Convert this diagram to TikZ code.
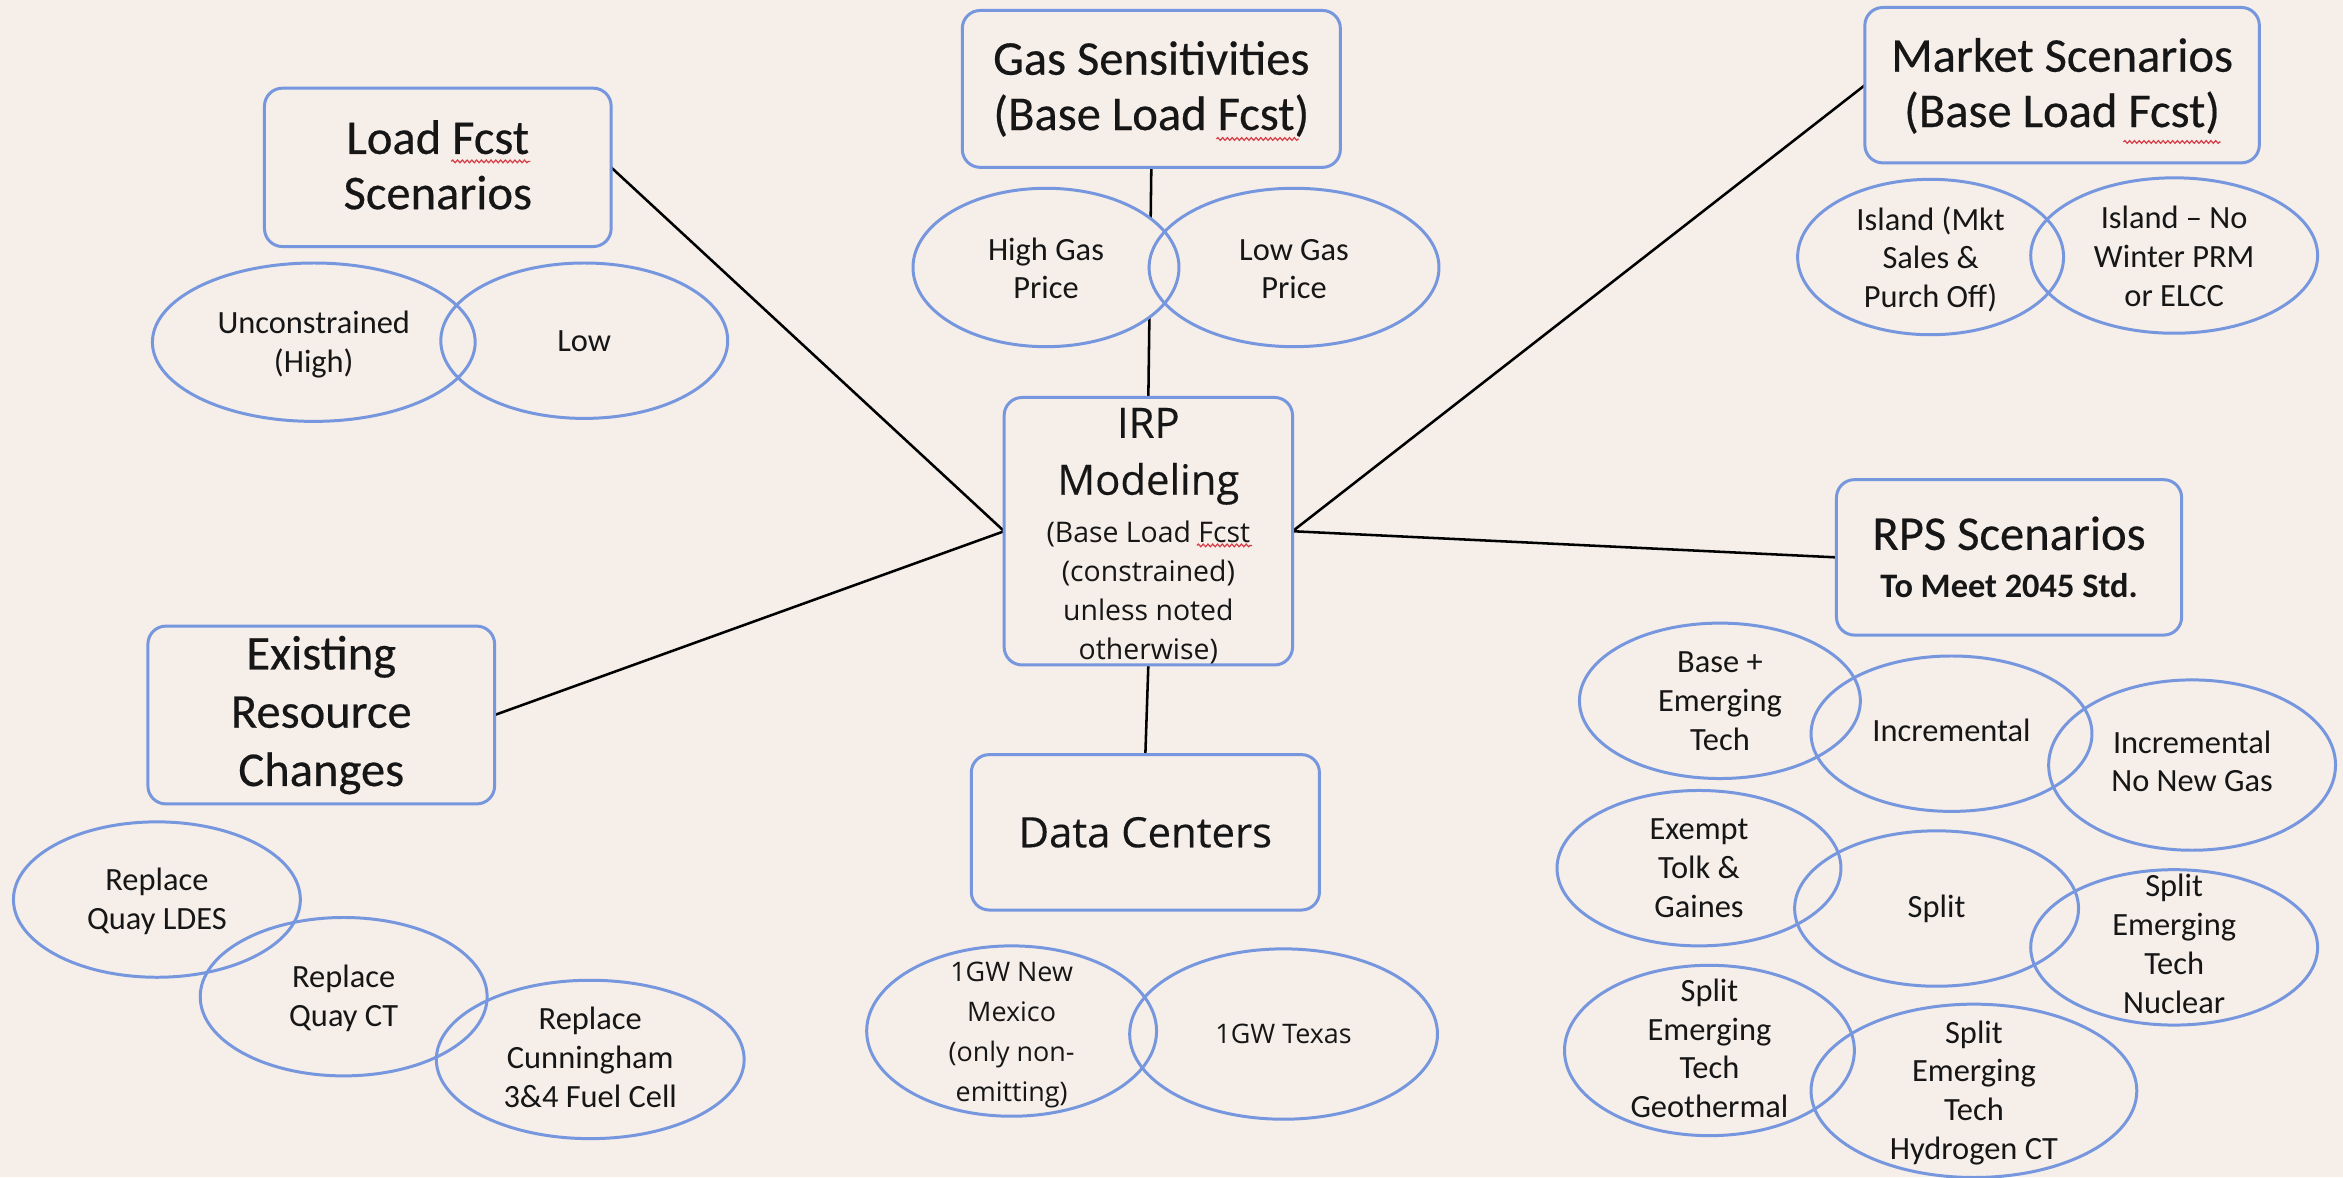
\documentclass[tikz,border=0pt]{standalone}
\usepackage{fontspec}
\setmainfont{Carlito}
\newfontfamily\osans{Open Sans}
\newfontfamily\titlef[FakeBold=0.4]{Carlito}
\newfontfamily\ostitle[FakeBold=0.3]{Open Sans}
\usetikzlibrary{shapes.geometric,decorations.pathmorphing}
\definecolor{bgc}{RGB}{245,238,233}
\definecolor{edgeblue}{RGB}{118,150,222}
\definecolor{ink}{RGB}{22,22,22}
\definecolor{spellred}{RGB}{215,60,70}
\pgfdeclarelayer{background}
\pgfsetlayers{background,main}
\newcommand\txtl[2]{\smash{\raisebox{#1pt}{\begin{tabular}[t]{@{}c@{}}#2\end{tabular}}}}
\newcommand\ellip[8]{%
  \begin{pgfonlayer}{background}
    \fill[bgc] (#2,#3) ellipse [x radius=#4pt, y radius=#5pt];
  \end{pgfonlayer}
  \node[ell, #6, minimum width=2*#4pt, minimum height=2*#5pt] (#1) at (#2,#3) {\txtl{#7}{#8}};}
\tikzset{
  box/.style={draw=edgeblue, line width=2pt, rounded corners=12pt, inner sep=0pt, outer sep=0pt, text=ink},
  ell/.style={ellipse, draw=edgeblue, line width=2pt, inner sep=0pt, outer sep=0pt, text=ink},
  conn/.style={draw=black, line width=1.7pt},
  squiggle/.style={draw=spellred, line width=0.8pt, decorate, decoration={snake, amplitude=0.9pt, segment length=3.2pt}},
  titlefont/.style={font=\titlef\fontsize{32.5}{37}\selectfont},
  ellfont/.style={font=\fontsize{21.7}{26}\selectfont},
  osfont/.style={font=\osans\fontsize{18}{26.7}\selectfont},
}
\begin{document}
\begin{tikzpicture}[x=1pt, y=-1pt]
\useasboundingbox (0,0) rectangle (1568,788);
\begin{pgfonlayer}{background}
  \fill[bgc] (0,0) rectangle (1568,788);
\end{pgfonlayer}

% boxes
\node[box, titlefont, minimum width=232pt, minimum height=106pt] (load) at (293,112) {\txtl{9}{Load Fcst\\Scenarios}};
\node[box, titlefont, minimum width=253pt, minimum height=105pt] (gas) at (770.5,59.5) {\txtl{9.5}{Gas Sensitivities\\(Base Load Fcst)}};
\node[box, titlefont, minimum width=264pt, minimum height=104pt] (market) at (1380,57) {\txtl{9}{Market Scenarios\\(Base Load Fcst)}};
\node[box, font=\titlef\fontsize{32.5}{39}\selectfont, minimum width=232pt, minimum height=119pt] (exist) at (215,478.5) {\txtl{30.5}{Existing\\Resource\\Changes}};
\node[box, font=\fontsize{23}{32}\selectfont\bfseries, minimum width=231pt, minimum height=104pt] (rps) at (1344.5,373) {\txtl{5}{{\titlef\mdseries\fontsize{32.5}{32}\selectfont RPS Scenarios}\\To Meet 2045 Std.}};
\node[box, font=\osans\fontsize{19}{26}\selectfont, minimum width=193pt, minimum height=179pt] (irp) at (768.5,355.5) {\txtl{62.5}{{\ostitle\fontsize{28}{30}\selectfont IRP}\\[9pt]{\ostitle\fontsize{28}{30}\selectfont Modeling}\\[6pt](Base Load Fcst\\(constrained)\\unless noted\\otherwise)}};
\node[box, font=\ostitle\fontsize{28}{30}\selectfont, minimum width=233pt, minimum height=104pt] (data) at (766.5,557) {\txtl{-10}{Data Centers}};

% spell-check marks under "Fcst"
\draw[squiggle] (302,108) -- (355,108);
\draw[squiggle] (814,93) -- (869,93);
\draw[squiggle] (1421,95) -- (1486,95);
\draw[squiggle] (801,365) -- (838,365);

% connectors
\begin{pgfonlayer}{background}
  \draw[conn] (load.east) -- (irp.west);
  \draw[conn] (exist.east) -- (irp.west);
  \draw[conn] (gas.south) -- (irp.north);
  \draw[conn] (market.west) -- (irp.east);
  \draw[conn] (rps.west) -- (irp.east);
  \draw[conn] (irp.south) -- (data.north);
\end{pgfonlayer}

% ellipses
\ellip{unc}{210}{229}{108}{53}{ellfont}{6}{Unconstrained\\(High)}
\ellip{low}{391}{228}{96}{52}{ellfont}{-7}{Low}
\ellip{hgas}{700}{179}{89}{53}{ellfont}{5}{High Gas\\Price}
\ellip{lgas}{866}{179}{97}{53}{ellfont}{5}{Low Gas\\Price}
\ellip{isla}{1292}{172}{89}{52}{ellfont}{18}{Island (Mkt\\Sales \&\\Purch Off)}
\ellip{islb}{1455}{171}{96}{52}{ellfont}{18}{Island -- No\\Winter PRM\\or ELCC}
\ellip{ldes}{105}{602}{96}{52}{ellfont}{6}{Replace\\Quay LDES}
\ellip{qct}{230}{667}{96}{53}{ellfont}{6}{Replace\\Quay CT}
\ellip{cunn}{395}{709}{103}{53}{ellfont}{20}{Replace\\Cunningham\\3\&4 Fuel Cell}
\ellip{nm}{677}{690}{97}{57}{osfont}{33}{1GW New\\Mexico\\(only non-\\emitting)}
\ellip{tx}{859}{692}{103}{57}{osfont}{-6}{1GW Texas}
\ellip{base}{1151}{469}{94}{52}{ellfont}{19}{Base +\\Emerging\\Tech}
\ellip{incr}{1306}{491}{94}{52}{ellfont}{-5}{Incremental}
\ellip{inng}{1467}{512}{96}{57}{ellfont}{8}{Incremental\\No New Gas}
\ellip{exempt}{1137}{581}{95}{52}{ellfont}{19}{Exempt\\Tolk \&\\Gaines}
\ellip{split}{1296}{608}{95}{52}{ellfont}{-6}{Split}
\ellip{nuc}{1455}{634}{96}{52}{ellfont}{34}{Split\\Emerging\\Tech\\Nuclear}
\ellip{geo}{1144}{703}{97}{57}{ellfont}{33}{Split\\Emerging\\Tech\\Geothermal}
\ellip{hyd}{1321}{730}{109}{58}{ellfont}{32}{Split\\Emerging\\Tech\\Hydrogen CT}
\end{tikzpicture}
\end{document}
